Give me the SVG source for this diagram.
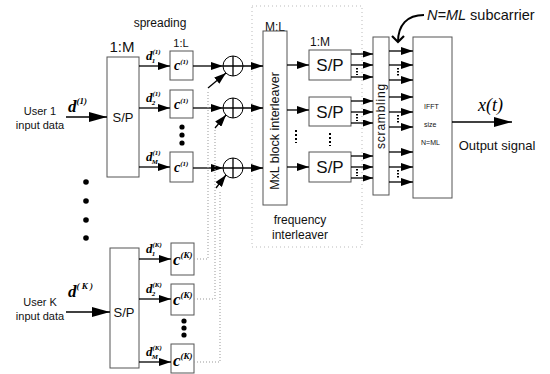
<svg xmlns="http://www.w3.org/2000/svg" width="550" height="374" viewBox="0 0 550 374">
<defs>
<marker id="ah" markerUnits="userSpaceOnUse" markerWidth="12" markerHeight="8" refX="12" refY="4" orient="auto"><path d="M0,0 L12,4 L0,8 z" fill="#000"/></marker>
<marker id="ahL" markerUnits="userSpaceOnUse" markerWidth="18" markerHeight="10" refX="18" refY="5" orient="auto"><path d="M0,0 L18,5 L0,10 z" fill="#000"/></marker>
<marker id="ahS" markerUnits="userSpaceOnUse" markerWidth="10" markerHeight="7" refX="10" refY="3.5" orient="auto"><path d="M0,0 L10,3.5 L0,7 z" fill="#000"/></marker>
<marker id="chev" markerUnits="userSpaceOnUse" markerWidth="14" markerHeight="14" refX="7" refY="7" orient="auto"><path d="M1,1 L7,7 L1,13" fill="none" stroke="#000" stroke-width="2.2"/></marker>
</defs>
<style>
.box{fill:#fff;stroke:#555;stroke-width:1}
.ln{stroke:#000;stroke-width:1.3;fill:none}
.dt{stroke:#999;stroke-width:1;stroke-dasharray:1 2;fill:none}
.fr{stroke:#bbb;stroke-width:1;stroke-dasharray:1 3;fill:none}
.t{font-family:"Liberation Sans",Arial,sans-serif;fill:#111}
.m{font-family:"Liberation Serif","Times New Roman",serif;font-style:italic;font-weight:bold;fill:#000}
.bd{fill:#000}
</style>
<rect width="550" height="374" fill="#fff"/>

<!-- labels -->
<g id="labels">
<text class="t" x="160" y="27" font-size="12" text-anchor="middle">spreading</text>
<text class="t" x="122" y="52" font-size="15" text-anchor="middle">1:M</text>
<text class="t" x="181" y="47" font-size="11" text-anchor="middle" fill="#555">1:L</text>
<text class="t" x="275" y="31" font-size="12" text-anchor="middle">M:L</text>
<text class="t" x="320" y="46" font-size="12" text-anchor="middle">1:M</text>
<text class="t" x="300" y="224" font-size="12" text-anchor="middle">frequency</text>
<text class="t" x="300" y="239" font-size="12" text-anchor="middle">interleaver</text>
<text class="t" x="427" y="20" font-size="14.5"><tspan font-style="italic">N=ML</tspan> subcarrier</text>
<text class="t" x="497" y="150" font-size="13" text-anchor="middle">Output signal</text>
<text x="478" y="111" font-size="18" font-family="Liberation Serif, serif" font-style="italic">x(t)</text>
<circle class="bd" cx="86" cy="182" r="2.8"/>
<circle class="bd" cx="86" cy="201" r="2.8"/>
<circle class="bd" cx="86" cy="220" r="2.8"/>
<circle class="bd" cx="86" cy="238" r="2.8"/>
<rect class="fr" x="252" y="6" width="110" height="241"/>
</g>

<!-- user 1 -->
<g id="user1-input">
<text class="t" x="40" y="115" font-size="11" text-anchor="middle">User 1</text>
<text class="t" x="40" y="129" font-size="11" text-anchor="middle">input data</text>
<text class="m" x="68" y="112" font-size="17">d<tspan font-size="9" dy="-8">(1)</tspan></text>
</g>
<g id="user1-sp">
<rect class="box" x="107" y="57" width="32" height="120"/>
<text class="t" x="123" y="122" font-size="13" text-anchor="middle">S/P</text>
</g>
<g id="user1-c1"><rect class="box" x="170" y="51" width="23" height="29"/><text class="m" x="174" y="70" font-size="14">c<tspan font-size="7" dy="-6">(1)</tspan></text></g>
<g id="user1-c2"><rect class="box" x="170" y="90" width="23" height="28"/><text class="m" x="174" y="109" font-size="14">c<tspan font-size="7" dy="-6">(1)</tspan></text></g>
<g id="user1-cM"><rect class="box" x="170" y="152" width="23" height="30"/><text class="m" x="174" y="172" font-size="14">c<tspan font-size="7" dy="-6">(1)</tspan></text></g>
<g id="user1-dlabels">
<text class="m" x="146" y="60" font-size="13">d<tspan font-size="7" dy="-6">(1)</tspan><tspan font-size="7" dx="-9" dy="9">1</tspan></text>
<text class="m" x="146" y="102" font-size="13">d<tspan font-size="7" dy="-6">(1)</tspan><tspan font-size="7" dx="-9" dy="9">2</tspan></text>
<text class="m" x="146" y="161" font-size="13">d<tspan font-size="7" dy="-6">(1)</tspan><tspan font-size="7" dx="-9" dy="9">M</tspan></text>
</g>
<g id="dots-c1"><circle class="bd" cx="182" cy="127" r="2.6"/><circle class="bd" cx="182" cy="135" r="2.6"/><circle class="bd" cx="182" cy="143" r="2.6"/></g>

<!-- adders -->
<g id="add1"><circle cx="233" cy="66" r="10" fill="none" stroke="#000" stroke-width="1"/><line class="ln" x1="233" y1="56" x2="233" y2="76"/></g>
<g id="add2"><circle cx="233" cy="108" r="10" fill="none" stroke="#000" stroke-width="1"/><line class="ln" x1="233" y1="98" x2="233" y2="118"/></g>
<g id="add3"><circle cx="233" cy="168" r="10" fill="none" stroke="#000" stroke-width="1"/><line class="ln" x1="233" y1="158" x2="233" y2="178"/></g>

<!-- interleaver -->
<g id="interleaver">
<rect class="box" x="263" y="31" width="24" height="174"/>
<text class="t" transform="translate(279,131) rotate(-90)" font-size="12.5" text-anchor="middle">MxL block interleaver</text>
</g>
<g id="sp2-1"><rect class="box" x="309" y="50" width="42" height="30"/><text class="t" x="330" y="71" font-size="17" text-anchor="middle">S/P</text></g>
<g id="sp2-2"><rect class="box" x="309" y="97" width="42" height="29"/><text class="t" x="330" y="118" font-size="17" text-anchor="middle">S/P</text></g>
<g id="sp2-3"><rect class="box" x="309" y="152" width="42" height="30"/><text class="t" x="330" y="173" font-size="17" text-anchor="middle">S/P</text></g>
<g id="dots-il"><line x1="296" y1="130" x2="296" y2="143" stroke="#000" stroke-width="2" stroke-dasharray="2 2"/><line x1="330" y1="133" x2="330" y2="146" stroke="#000" stroke-width="2" stroke-dasharray="2 2"/></g>

<g id="scrambling">
<rect class="box" x="373" y="37" width="16" height="158"/>
<text class="t" transform="translate(385,116) rotate(-90)" font-size="12" text-anchor="middle" letter-spacing="0.8">scrambling</text>
</g>
<g id="ifft">
<rect class="box" x="413" y="37" width="39" height="161"/>
<text class="t" x="424" y="109" font-size="7">IFFT</text>
<text class="t" x="424" y="127" font-size="7">size</text>
<text class="t" x="421" y="145" font-size="7">N=ML</text>
</g>

<!-- user K -->
<g id="userK-input">
<text class="t" x="40" y="306" font-size="11" text-anchor="middle">User  K</text>
<text class="t" x="40" y="320" font-size="11" text-anchor="middle">input data</text>
<text class="m" x="68" y="297" font-size="17">d<tspan font-size="9" dy="-8">( K )</tspan></text>
</g>
<g id="userK-sp">
<rect class="box" x="110" y="248" width="29" height="120"/>
<text class="t" x="124" y="317" font-size="13" text-anchor="middle">S/P</text>
</g>
<g id="userK-c1"><rect class="box" x="171" y="243" width="23" height="32"/><text class="m" x="173" y="265" font-size="17">c<tspan font-size="9" dy="-7">(K)</tspan></text></g>
<g id="userK-c2"><rect class="box" x="171" y="284" width="23" height="31"/><text class="m" x="173" y="305" font-size="17">c<tspan font-size="9" dy="-7">(K)</tspan></text></g>
<g id="userK-cM"><rect class="box" x="171" y="344" width="23" height="29"/><text class="m" x="173" y="366" font-size="17">c<tspan font-size="9" dy="-7">(K)</tspan></text></g>
<g id="userK-dlabels">
<text class="m" x="146" y="253" font-size="13">d<tspan font-size="7" dy="-6">(K)</tspan><tspan font-size="7" dx="-10" dy="9">1</tspan></text>
<text class="m" x="146" y="293" font-size="13">d<tspan font-size="7" dy="-6">(K)</tspan><tspan font-size="7" dx="-10" dy="9">2</tspan></text>
<text class="m" x="146" y="356" font-size="13">d<tspan font-size="7" dy="-6">(K)</tspan><tspan font-size="7" dx="-10" dy="9">M</tspan></text>
</g>
<g id="dots-cK"><circle class="bd" cx="184" cy="321" r="2.6"/><circle class="bd" cx="184" cy="328" r="2.6"/><circle class="bd" cx="184" cy="335" r="2.6"/></g>

<!-- connectors -->
<g id="connectors">
<line class="ln" x1="66" y1="117" x2="107" y2="117" marker-end="url(#ahL)"/>
<line class="ln" x1="139" y1="66" x2="170" y2="66" marker-end="url(#ah)"/>
<line class="ln" x1="139" y1="108" x2="170" y2="108" marker-end="url(#ah)"/>
<line class="ln" x1="139" y1="167" x2="170" y2="167" marker-end="url(#ah)"/>
<line class="ln" x1="193" y1="66" x2="223" y2="66" marker-end="url(#ah)"/>
<line class="ln" x1="193" y1="108" x2="223" y2="108" marker-end="url(#ah)"/>
<line class="ln" x1="193" y1="168" x2="223" y2="168" marker-end="url(#ah)"/>
<line class="ln" x1="223" y1="66" x2="263" y2="66" marker-end="url(#ah)"/>
<line class="ln" x1="223" y1="108" x2="263" y2="108" marker-end="url(#ah)"/>
<line class="ln" x1="223" y1="168" x2="263" y2="168" marker-end="url(#ah)"/>
<line class="ln" x1="208" y1="88" x2="226" y2="73" marker-end="url(#ah)"/>
<line class="ln" x1="215" y1="128" x2="226" y2="115" marker-end="url(#ah)"/>
<line class="ln" x1="216" y1="188" x2="226" y2="175" marker-end="url(#ah)"/>
<path class="dt" d="M194,259 H208 V90"/>
<path class="dt" d="M194,299 H215 V130"/>
<path class="dt" d="M194,362 H220 V190"/>
<line class="ln" x1="287" y1="65" x2="309" y2="65" marker-end="url(#ah)"/>
<line class="ln" x1="287" y1="110" x2="309" y2="110" marker-end="url(#ah)"/>
<line class="ln" x1="287" y1="167" x2="309" y2="167" marker-end="url(#ah)"/>
<g marker-end="url(#ahS)">
<line class="ln" x1="351" y1="54" x2="373" y2="54"/><line class="ln" x1="351" y1="65" x2="373" y2="65"/><line class="ln" x1="351" y1="77" x2="373" y2="77"/>
<line class="ln" x1="351" y1="101" x2="373" y2="101"/><line class="ln" x1="351" y1="112" x2="373" y2="112"/><line class="ln" x1="351" y1="123" x2="373" y2="123"/>
<line class="ln" x1="351" y1="156" x2="373" y2="156"/><line class="ln" x1="351" y1="167" x2="373" y2="167"/><line class="ln" x1="351" y1="178" x2="373" y2="178"/>
</g>
<g stroke="#000" stroke-width="2" stroke-dasharray="1.5 1.5">
<line x1="357" y1="68" x2="357" y2="75"/><line x1="357" y1="114" x2="357" y2="121"/><line x1="357" y1="169" x2="357" y2="176"/>
<line x1="398" y1="68" x2="398" y2="77"/><line x1="398" y1="115" x2="398" y2="124"/><line x1="398" y1="170" x2="398" y2="179"/>
</g>
<g marker-end="url(#ah)">
<line class="ln" x1="389" y1="51" x2="413" y2="51"/><line class="ln" x1="389" y1="65" x2="413" y2="65"/><line class="ln" x1="389" y1="80" x2="413" y2="80"/>
<line class="ln" x1="389" y1="97" x2="413" y2="97"/><line class="ln" x1="389" y1="112" x2="413" y2="112"/><line class="ln" x1="389" y1="127" x2="413" y2="127"/>
<line class="ln" x1="389" y1="152" x2="413" y2="152"/><line class="ln" x1="389" y1="167" x2="413" y2="167"/><line class="ln" x1="389" y1="182" x2="413" y2="182"/>
</g>
<line class="ln" x1="452" y1="122" x2="512" y2="122" marker-end="url(#ahL)"/>
<path d="M424,15 C407,15 398,25 398,42" fill="none" stroke="#000" stroke-width="2" marker-end="url(#chev)"/>
<line class="ln" x1="66" y1="312" x2="110" y2="312" marker-end="url(#ahL)"/>
<line class="ln" x1="139" y1="259" x2="171" y2="259" marker-end="url(#ah)"/>
<line class="ln" x1="139" y1="299" x2="171" y2="299" marker-end="url(#ah)"/>
<line class="ln" x1="139" y1="362" x2="171" y2="362" marker-end="url(#ah)"/>
</g>
</svg>
